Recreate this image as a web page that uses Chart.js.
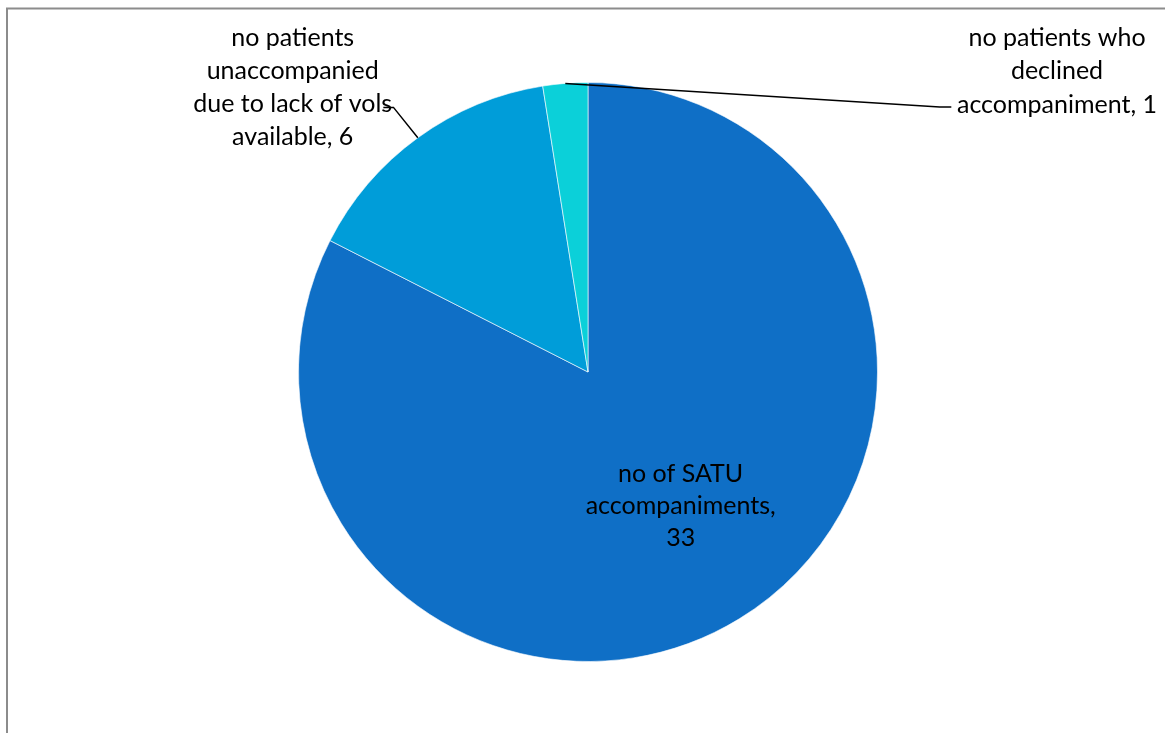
<!DOCTYPE html>
<html lang="en">
<head>
<meta charset="UTF-8">
<title>SATU accompaniments</title>
<script src="https://cdn.jsdelivr.net/npm/chart.js"></script>
<style>
    html, body { margin: 0; padding: 0; background: #fff; }
    #wrap { width: 1165px; height: 733px; position: relative; }
</style>
</head>
<body>
<div id="wrap"><canvas id="pie"></canvas></div>
<script>
    // data
    const labels = ["no of SATU accompaniments", "no patients unaccompanied due to lack of vols available", "no patients who declined accompaniment"];
    const values = [33, 6, 1];
    const colours = ["#0F6FC6", "#009DD9", "#0BD0D9"];
    // label lines as wrapped in the original
    const labelLines = [
        ["no of SATU", "accompaniments,", "33"],
        ["no patients", "unaccompanied", "due to lack of vols", "available, 6"],
        ["no patients who", "declined", "accompaniment, 1"]
    ];

    const FONT = '25px Lato, "Open Sans", sans-serif';

    // frame lines (left + top only visible)
    const framePlugin = {
        id: 'frame',
        beforeDraw(chart) {
            const c = chart.ctx;
            c.save();
            c.fillStyle = '#fff';
            c.fillRect(0, 0, chart.width, chart.height);
            c.strokeStyle = '#8c8c8c';
            c.lineWidth = 2;
            c.beginPath();
            c.moveTo(7, chart.height);
            c.lineTo(7, 8.5);
            c.lineTo(chart.width, 8.5);
            c.stroke();
            c.restore();
        }
    };

    // data labels with leader lines, placed like the original
    const labelPlugin = {
        id: 'pieLabels',
        afterDatasetsDraw(chart) {
            const c = chart.ctx;
            const arcs = chart.getDatasetMeta(0).data;
            c.save();
            c.font = FONT;
            c.fillStyle = '#000';
            c.textAlign = 'center';
            c.textBaseline = 'middle';

            const a0 = arcs[0], a1 = arcs[1], a2 = arcs[2];
            const cx = a0.x, cy = a0.y, r = a0.outerRadius;

            const place = [
                { x: cx + 0.32 * r, y: cy + 0.352 * r, lh: 32 },
                { x: cx - 1.02 * r, y: cy - 1.155 * r, lh: 33 },
                { x: cx + 1.62 * r, y: cy - 1.155 * r, lh: 33.5 }
            ];
            labelLines.forEach((lines, i) => {
                lines.forEach((t, j) => c.fillText(t, place[i].x, place[i].y + j * place[i].lh));
            });

            // leader lines
            c.strokeStyle = '#000';
            c.lineWidth = 1.5;
            // unaccompanied: from slice middle to end of "vols"
            let ang = (a1.startAngle + a1.endAngle) / 2;
            c.beginPath();
            c.moveTo(cx + Math.cos(ang) * r, cy + Math.sin(ang) * r);
            c.lineTo(cx - 0.672 * r, cy - 0.914 * r);
            c.lineTo(cx - 0.707 * r, cy - 0.914 * r);
            c.stroke();
            // declined: from slice top to label
            ang = (a2.startAngle + a2.endAngle) / 2;
            c.beginPath();
            c.moveTo(cx + Math.cos(ang) * r, cy + Math.sin(ang) * r);
            c.lineTo(cx + 1.215 * r, cy - 0.915 * r);
            c.lineTo(cx + 1.255 * r, cy - 0.915 * r);
            c.stroke();
            c.restore();
        }
    };

    new Chart(document.getElementById('pie'), {
        type: 'pie',
        data: {
            labels: labels,
            datasets: [{
                data: values,
                backgroundColor: colours,
                borderColor: 'rgba(255,255,255,0.6)',
                borderWidth: 1
            }]
        },
        options: {
            responsive: true,
            maintainAspectRatio: false,
            animation: false,
            layout: { padding: { top: 82, bottom: 71, left: 298, right: 287 } },
            plugins: {
                legend: { display: false },
                tooltip: { enabled: false }
            }
        },
        plugins: [framePlugin, labelPlugin]
    });
</script>
</body>
</html>
